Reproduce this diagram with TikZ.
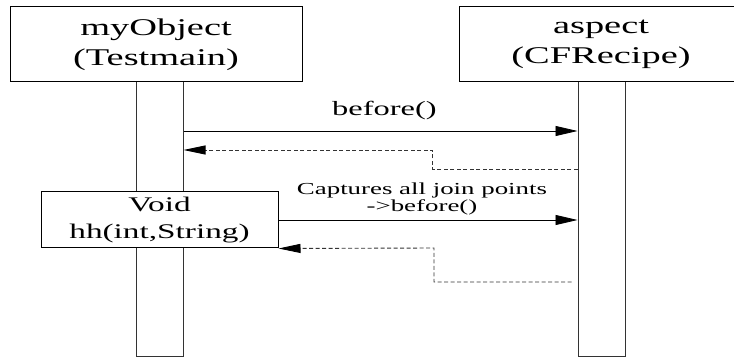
\documentclass[tikz,border=0pt]{standalone}
\usepackage{fontspec}
\setmainfont{Liberation Serif}
\newfontfamily\wideserif[FakeStretch=1.6]{Liberation Serif}
\usetikzlibrary{arrows.meta}

\begin{document}
\begin{tikzpicture}[x=1pt,y=-1pt,
  objbox/.style={draw, line width=1pt, fill=white, inner sep=0pt, align=center,
    font=\wideserif\fontsize{24}{30}\selectfont},
  callbox/.style={draw, line width=1pt, fill=white, inner sep=0pt, align=center,
    font=\wideserif\fontsize{20.8}{27}\selectfont},
  lifebar/.style={draw=black!80, line width=1pt, fill=white, inner sep=0pt},
  msg/.style={draw, line width=0.8pt, -{Triangle[length=22pt,width=10pt]}},
  ret/.style={draw=black!80, line width=0.9pt, dash pattern=on 4pt off 2.5pt,
    -{Triangle[length=22pt,width=9pt,color=black]}},
  bigmsg/.style={font=\wideserif\fontsize{20.3}{24}\selectfont, inner sep=0pt},
  smallmsg/.style={font=\wideserif\fontsize{16.8}{17}\selectfont, inner sep=0pt, align=center}]

\useasboundingbox (0,0) rectangle (734,358);
\clip (0,0) rectangle (734,358);

% objects and their lifelines
\node[lifebar, minimum width=47pt, minimum height=274pt] (barA) at (159.5,219) {};
\node[lifebar, minimum width=47pt, minimum height=274pt] (barB) at (601.5,219) {};
\node[objbox, minimum width=292pt, minimum height=75pt] (objA) at (156,44.5) {myObject\\(Testmain)};
\node[objbox, minimum width=284pt, minimum height=75pt] (objB) at (601,44.5) {aspect\\(CFRecipe)};
\node[callbox, minimum width=237pt, minimum height=56pt] (call) at (159.5,220) {Void\\hh(int,String)};

% message levels
\coordinate (m1) at (0,131);
\coordinate (r1a) at (0,169);
\coordinate (r1b) at (0,150);
\coordinate (m2) at (0,220);
\coordinate (r2a) at (0,282);

% before() call and its return
\draw[msg] (barA.east |- m1) -- node[bigmsg, midway, above=11pt, xshift=4pt] {before()} (barB.west |- m1);
\draw[ret] (barB.west |- r1a) -- (432,169) -- (432,150) -- (barA.east |- r1b);

% advice on hh(int,String) and its return
\draw[msg] (call.east |- m2) -- node[smallmsg, midway, above=5pt, xshift=-6pt] {Captures all join points\\->before()} (barB.west |- m2);
\draw[ret] ([xshift=-6pt]barB.west |- r2a) -- (434,282) -- (434,248) -- (call.south east);

\end{tikzpicture}
\end{document}
